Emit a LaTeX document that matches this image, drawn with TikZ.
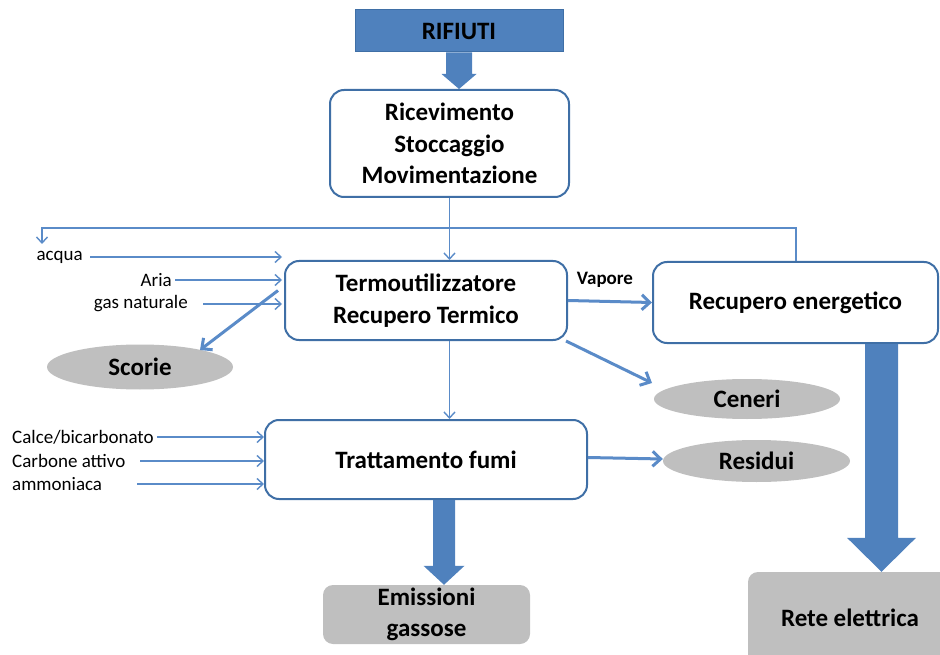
\documentclass[tikz,border=0pt]{standalone}
\usepackage{fontspec}
\setmainfont{Carlito}
\usetikzlibrary{arrows.meta,shapes.geometric,calc}

\definecolor{fillblue}{HTML}{4F81BD}
\definecolor{edgeblue}{HTML}{3F6FA6}
\definecolor{lineblue}{HTML}{5A8BC8}
\definecolor{softgrey}{HTML}{BFBFBF}

\newcommand\mainsize{\fontsize{25}{31.5}\selectfont\bfseries}
\newcommand\smallsize{\fontsize{19}{23}\selectfont}

% downward block arrow: start, tip, half shaft width, half head width, head length
\newcommand\blockarrowdown[5]{%
  \fill[fillblue] ($(#1)+(-#3,0)$) -- ($(#2)+(-#3,-#5)$) -- ($(#2)+(-#4,-#5)$) -- (#2)
    -- ($(#2)+(#4,-#5)$) -- ($(#2)+(#3,-#5)$) -- ($(#1)+(#3,0)$) -- cycle;}

\tikzset{
  stagebox/.style={draw=edgeblue, line width=2pt, rounded corners=14pt, fill=white,
    inner sep=0pt, align=center, font=\mainsize},
  outbox/.style={fill=softgrey, rounded corners=10pt, inner sep=0pt, align=center, font=\mainsize},
  wasteblob/.style={ellipse, fill=softgrey, inner sep=0pt, font=\mainsize},
  inlabel/.style={inner sep=0pt, font=\smallsize},
  thinflow/.style={draw=lineblue, line width=1.6pt, -{Straight Barb[length=6pt,width=11pt,line width=1.4pt]}},
  thickflow/.style={draw=lineblue, line width=3pt, -{Straight Barb[length=8pt,width=15pt,line width=3pt]}},
}

\begin{document}
\begin{tikzpicture}[x=1pt,y=-1pt]
\useasboundingbox (0,0) rectangle (940,655);

% main process chain
\node[fill=fillblue, draw=edgeblue, line width=1pt, minimum width=208pt, minimum height=42pt,
      inner sep=0pt, font=\mainsize] (rif) at (459,31) {RIFIUTI};
\node[stagebox, minimum width=239pt, minimum height=107pt] (ric) at (449.5,143.5)
  {Ricevimento\\Stoccaggio\\Movimentazione};
\node[stagebox, minimum width=282pt, minimum height=79pt] (termo) at (426,300.5)
  {Termoutilizzatore\\Recupero Termico};
\node[stagebox, minimum width=285pt, minimum height=81pt] (recup) at (795.5,302.5)
  {Recupero energetico};
\node[stagebox, minimum width=322pt, minimum height=79pt] (tratt) at (426,459.5)
  {Trattamento fumi};

% by-products and outputs
\node[wasteblob, minimum width=186pt, minimum height=45pt] (scorie) at (140,367) {Scorie};
\node[wasteblob, minimum width=186pt, minimum height=40pt] (ceneri) at (747,399) {Ceneri};
\node[wasteblob, minimum width=187pt, minimum height=42pt] (residui) at (756.5,461) {Residui};
\node[outbox, minimum width=207pt, minimum height=59pt] (emis) at (426.5,614.5)
  {Emissioni\\gassose};
\node[outbox, minimum width=204pt, minimum height=92pt] (rete) at (850,618) {Rete elettrica};

% inputs to the furnace
\node[inlabel, anchor=east] (acqua) at (83,257) {acqua};
\node[inlabel, anchor=east] (aria) at (172,280) {Aria};
\node[inlabel, anchor=east] (gas) at (188,304) {gas naturale};

% inputs to flue gas treatment
\node[inlabel, anchor=west] (calce) at (12,437) {Calce/bicarbonato};
\node[inlabel, anchor=west] (carbone) at (12,461) {Carbone attivo};
\node[inlabel, anchor=west] (ammo) at (12,484) {ammoniaca};

\node[font=\fontsize{19}{23}\selectfont\bfseries, inner sep=0pt] (vap) at (605,280) {Vapore};

% block arrows
\coordinate (rifout) at (rif.south);
\coordinate (ricin) at (ric.north -| rif.south);
\blockarrowdown{rifout}{ricin}{13}{17.5}{15}
\coordinate (trattout) at ([xshift=18pt]tratt.south);
\coordinate (emisin) at (trattout |- emis.north);
\blockarrowdown{trattout}{emisin}{11}{20.5}{19}
\coordinate (recupout) at ([xshift=86pt]recup.south);
\coordinate (retein) at (recupout |- rete.north);
\blockarrowdown{recupout}{retein}{16.5}{34.5}{34}

% thin connectors
\draw[thinflow] (ric.south) -- (ric.south |- termo.north);
\draw[thinflow] (termo.south -| ric.south) -- (tratt.north -| ric.south);

\coordinate (fbtop) at (0,228);
\coordinate (fbend) at (42,244);
\draw[thinflow] ([xshift=0.5pt]recup.north) |- (fbtop -| fbend) -- (fbend);

\draw[thinflow] ([xshift=7pt]acqua.east) -- ([xshift=-2pt]acqua.east -| termo.west);
\draw[thinflow] ([xshift=3pt]aria.east) -- ([xshift=-2pt]aria.east -| termo.west);
\draw[thinflow] ([xshift=15pt]gas.east) -- ([xshift=-2pt]gas.east -| termo.west);

\draw[thinflow] ([xshift=3pt]calce.east) -- (calce.east -| tratt.west);
\draw[thinflow] ([xshift=128pt]carbone.west) -- (carbone.east -| tratt.west);
\draw[thinflow] ([xshift=35pt]ammo.east) -- (ammo.east -| tratt.west);

% thick connectors
\draw[thickflow] ([xshift=-6pt,yshift=10pt]termo.west) -- ($(scorie.center)+(60,-17)$);
\draw[thickflow] (termo.east) -- (recup.west);
\draw[thickflow] ([xshift=-2pt]termo.south east) -- ($(ceneri.center)+(-95,-16)$);
\draw[thickflow] ([yshift=2pt]tratt.east) -- ([yshift=2pt]residui.west);
\end{tikzpicture}
\end{document}
